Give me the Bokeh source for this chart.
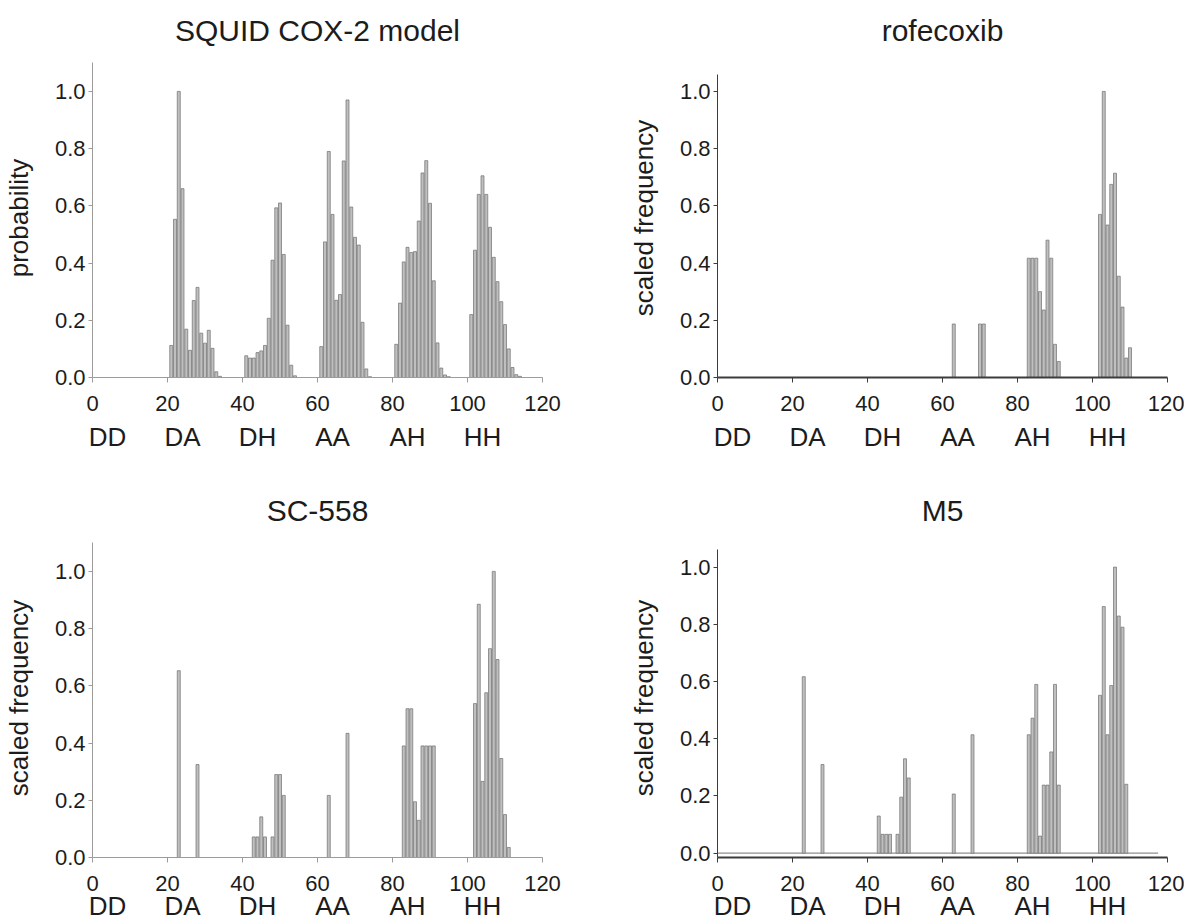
from bokeh.plotting import figure
from bokeh.layouts import column, row
from bokeh.models import Range1d, FixedTicker, NumeralTickFormatter, LinearAxis, ColumnDataSource
from bokeh.embed import file_html
from bokeh.resources import INLINE

# ---------------- data ----------------
cat_labels = ["DD", "DA", "DH", "AA", "AH", "HH"]
cat_centers = [4, 24, 44, 64, 84, 104]
x_ticks = [0, 20, 40, 60, 80, 100, 120]
y_ticks = [0.0, 0.2, 0.4, 0.6, 0.8, 1.0]

squid_bins = [21, 22, 23, 24, 25, 26, 27, 28, 29, 30, 31, 32, 33, 34,
              41, 42, 43, 44, 45, 46, 47, 48, 49, 50, 51, 52, 53, 54,
              61, 62, 63, 64, 65, 66, 67, 68, 69, 70, 71, 72, 73, 74,
              81, 82, 83, 84, 85, 86, 87, 88, 89, 90, 91, 92, 93, 94, 95,
              101, 102, 103, 104, 105, 106, 107, 108, 109, 110, 111, 112, 113, 114]
squid_prob = [0.112, 0.553, 1.0, 0.66, 0.169, 0.095, 0.269, 0.315, 0.155, 0.12, 0.165, 0.102, 0.02, 0.004,
              0.076, 0.068, 0.068, 0.087, 0.093, 0.112, 0.207, 0.41, 0.593, 0.61, 0.43, 0.183, 0.043, 0.006,
              0.108, 0.474, 0.79, 0.57, 0.27, 0.29, 0.757, 0.97, 0.596, 0.49, 0.463, 0.193, 0.03, 0.003,
              0.116, 0.26, 0.404, 0.455, 0.437, 0.44, 0.547, 0.715, 0.758, 0.609, 0.338, 0.121, 0.033, 0.009, 0.003,
              0.22, 0.445, 0.64, 0.705, 0.64, 0.525, 0.42, 0.335, 0.265, 0.185, 0.10, 0.035, 0.01, 0.004]

rofe_bins = [63, 70, 71,
             83, 84, 85, 86, 87, 88, 89, 90, 91,
             102, 103, 104, 105, 106, 107, 108, 109, 110]
rofe_freq = [0.187, 0.187, 0.187,
             0.417, 0.417, 0.417, 0.30, 0.236, 0.48, 0.417, 0.116, 0.056,
             0.57, 1.0, 0.533, 0.675, 0.714, 0.354, 0.246, 0.068, 0.104]

sc558_bins = [23, 28,
              43, 44, 45, 46, 48, 49, 50, 51,
              63, 68,
              83, 84, 85, 86, 87, 88, 89, 90, 91,
              102, 103, 104, 105, 106, 107, 108, 109, 110, 111]
sc558_freq = [0.653, 0.325,
              0.072, 0.072, 0.142, 0.072, 0.072, 0.29, 0.29, 0.217,
              0.217, 0.434,
              0.39, 0.52, 0.52, 0.195, 0.13, 0.39, 0.39, 0.39, 0.39,
              0.538, 0.885, 0.266, 0.576, 0.73, 1.0, 0.692, 0.346, 0.15, 0.035]

m5_bins = [23, 28,
           43, 44, 45, 46, 48, 49, 50, 51,
           63, 68,
           83, 84, 85, 86, 87, 88, 89, 90, 91,
           102, 103, 104, 105, 106, 107, 108, 109]
m5_freq = [0.617, 0.31,
           0.13, 0.066, 0.066, 0.066, 0.066, 0.196, 0.33, 0.263,
           0.207, 0.414,
           0.414, 0.472, 0.59, 0.06, 0.238, 0.238, 0.354, 0.59, 0.238,
           0.552, 0.862, 0.414, 0.586, 1.0, 0.829, 0.79, 0.241]

m5_baseline_x = [0, 117.5]
m5_baseline_y = [0, 0]

# ---------------- styling ----------------
FONT = "Liberation Sans"
TXT = "#1c1c1c"
FRAME_W = 450
FRAME_H = 319


def make_panel(title, bins, vals, ylabel, y_range, y_bounds, axis_color, x_axis_width,
               border_right, cat_standoff, baseline=None):
    p = figure(frame_width=FRAME_W, frame_height=FRAME_H,
               x_range=Range1d(0, 120), y_range=Range1d(*y_range),
               output_backend="svg", toolbar_location=None,
               min_border_left=0, min_border_right=border_right,
               min_border_top=0, min_border_bottom=0)
    p.outline_line_color = None
    p.xgrid.visible = False
    p.ygrid.visible = False
    p.background_fill_color = "white"
    p.border_fill_color = "white"

    p.title.text = title
    p.title.align = "center"
    p.title.text_font = FONT
    p.title.text_font_size = "30px"
    p.title.text_font_style = "normal"
    p.title.text_color = TXT
    p.title.standoff = 23

    src = ColumnDataSource(dict(x=bins, top=vals))
    if baseline is not None:
        p.line(baseline[0], baseline[1], line_color="#8f8f8f", line_width=1.2)
    p.vbar(x="x", top="top", bottom=0, width=0.8, source=src,
           fill_color="#bfbfbf", line_color="#707070", line_width=0.7)

    xa = p.xaxis[0]
    xa.ticker = FixedTicker(ticks=x_ticks)
    xa.axis_line_color = axis_color
    xa.axis_line_width = x_axis_width
    xa.major_tick_line_color = axis_color
    xa.major_tick_out = 5
    xa.major_tick_in = 0
    xa.minor_tick_line_color = None
    xa.major_label_text_font = FONT
    xa.major_label_text_font_size = "22px"
    xa.major_label_text_color = TXT
    xa.major_label_standoff = 13

    cax = LinearAxis(ticker=FixedTicker(ticks=cat_centers),
                     major_label_overrides={c: lab for c, lab in zip(cat_centers, cat_labels)})
    cax.axis_line_color = None
    cax.major_tick_line_color = None
    cax.major_tick_out = 0
    cax.major_tick_in = 0
    cax.minor_tick_line_color = None
    cax.major_label_text_font = FONT
    cax.major_label_text_font_size = "26px"
    cax.major_label_text_color = TXT
    cax.major_label_standoff = cat_standoff
    p.add_layout(cax, "below")

    ya = p.yaxis[0]
    ya.ticker = FixedTicker(ticks=y_ticks)
    ya.bounds = y_bounds
    ya.formatter = NumeralTickFormatter(format="0.0")
    ya.axis_line_color = axis_color
    ya.major_tick_line_color = axis_color
    ya.major_tick_out = 4
    ya.major_tick_in = 0
    ya.minor_tick_line_color = None
    ya.major_label_text_font = FONT
    ya.major_label_text_font_size = "22px"
    ya.major_label_text_color = TXT
    ya.major_label_standoff = 3
    ya.axis_label = ylabel
    ya.axis_label_text_font = FONT
    ya.axis_label_text_font_size = "26px"
    ya.axis_label_text_font_style = "normal"
    ya.axis_label_text_color = TXT
    ya.axis_label_standoff = 18
    return p


p1 = make_panel("SQUID COX-2 model", squid_bins, squid_prob, "probability",
                (0, 1.115), (0, 1.10), "#9c9c9c", 1, border_right=30, cat_standoff=8)
p2 = make_panel("rofecoxib", rofe_bins, rofe_freq, "scaled frequency",
                (0, 1.115), (0, 1.06), "#3c3c3c", 2, border_right=17, cat_standoff=8)
p3 = make_panel("SC-558", sc558_bins, sc558_freq, "scaled frequency",
                (0, 1.115), (0, 1.10), "#9c9c9c", 1, border_right=30, cat_standoff=-3)
p4 = make_panel("M5", m5_bins, m5_freq, "scaled frequency",
                (-0.015, 1.10), (-0.015, 1.06), "#3c3c3c", 2, border_right=17, cat_standoff=-3,
                baseline=(m5_baseline_x, m5_baseline_y))

layout = column(row(p1, p2, spacing=53), row(p3, p4, spacing=53), spacing=26)

open("out.html", "w").write(file_html(layout, INLINE))
